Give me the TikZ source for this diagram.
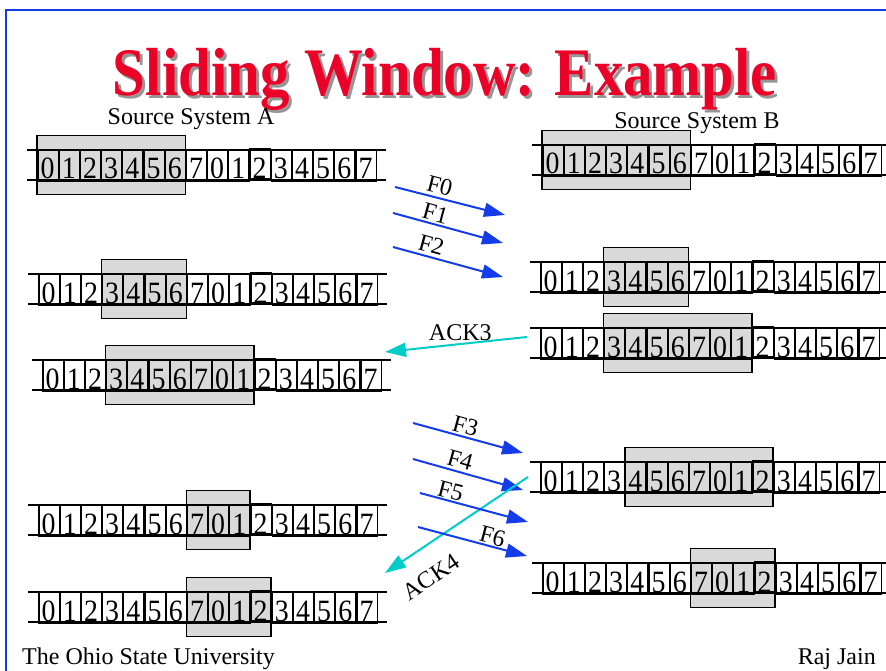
\documentclass[tikz,border=0pt]{standalone}
\usepackage{fontspec}
\setmainfont{Liberation Serif}
\newfontfamily\digitfont[FakeStretch=0.9]{Liberation Serif}
\newfontfamily\titlefont[FakeStretch=0.865]{Liberation Serif}
\usetikzlibrary{arrows.meta}

\definecolor{edgeblue}{RGB}{20,60,230}
\definecolor{titlered}{RGB}{235,0,40}
\definecolor{shadowgray}{RGB}{150,150,150}
\definecolor{winfill}{RGB}{217,217,217}
\definecolor{framecol}{RGB}{20,60,235}
\definecolor{ackcol}{RGB}{0,205,200}

\def\cw{21.2}

\tikzset{
  seqline/.style={line width=1.3pt},
  winbox/.style={draw, line width=1.5pt, fill=winfill},
  digit/.style={font=\digitfont\fontsize{31}{31}\selectfont, inner sep=0pt, anchor=base},
  lbl/.style={font=\fontsize{24}{24}\selectfont, inner sep=1pt},
  caption/.style={font=\fontsize{24}{24}\selectfont, inner sep=0pt},
  frame arrow/.style={draw=framecol, line width=2pt, -{Triangle[length=21pt,width=14pt]}},
  ack arrow/.style={draw=ackcol, line width=2pt, -{Triangle[length=21pt,width=14pt]}},
}

% one sequence-number strip: name, left x, centre y, first and last cell of the window
\newcommand\seqstrip[5]{%
  \begin{scope}[shift={(#2,#3)}]
    \draw[winbox] ({#4*\cw},-29.5) rectangle ({(#5+1)*\cw},29.5);
    \draw[seqline] (-10,-15) -- ({16*\cw+10},-15);
    \draw[seqline] (-10,15) -- ({16*\cw+10},15);
    \foreach \i in {0,...,15} {
      \pgfmathtruncatemacro\dg{mod(\i,8)}
      \ifnum\i=10
        \draw[seqline] ({\i*\cw+1},-16.5) rectangle ({(\i+1)*\cw},14);
      \else
        \draw[seqline] ({\i*\cw+1},-15) rectangle ({(\i+1)*\cw},16);
      \fi
      \node[digit] (#1-\i) at ({(\i+0.5)*\cw},14) {\dg};
    }
  \end{scope}}

\begin{document}
\begin{tikzpicture}[x=1pt,y=-1pt]
  \useasboundingbox (0,0) rectangle (886,671);

  % slide edge
  \draw[edgeblue, line width=2.5pt] (6,671) -- (6,10) -- (886,10);

  % title with drop shadow
  \node[anchor=base, inner sep=0pt, text=shadowgray,
        font=\titlefont\bfseries\fontsize{68}{68}\selectfont] (titleshadow) at (448,99) {Sliding Window: Example};
  \node[anchor=base, inner sep=0pt, text=titlered,
        font=\titlefont\bfseries\fontsize{68}{68}\selectfont] (title) at (445,96) {Sliding Window: Example};

  \node[caption, anchor=base] (srcA) at (191,125) {Source System A};
  \node[caption, anchor=base] (srcB) at (697,129) {Source System B};

  % sender side
  \seqstrip{a1}{37}{165}{0}{6}
  \seqstrip{a2}{38}{289}{3}{6}
  \seqstrip{a3}{42}{375}{3}{9}
  \seqstrip{a4}{38}{520}{7}{9}
  \seqstrip{a5}{38}{607}{7}{10}

  % receiver side
  \seqstrip{b1}{542}{160}{0}{6}
  \seqstrip{b2}{540}{277}{3}{6}
  \seqstrip{b3}{540}{343}{3}{9}
  \seqstrip{b4}{540}{477}{4}{10}
  \seqstrip{b5}{542}{578}{7}{10}

  % arrow end points
  \coordinate (f0s) at (395,187); \coordinate (f0e) at (505,215);
  \coordinate (f1s) at (393,213); \coordinate (f1e) at (503,243);
  \coordinate (f2s) at (393,247); \coordinate (f2e) at (503,277);
  \coordinate (k3s) at (527,337); \coordinate (k3e) at (385,352);
  \coordinate (f3s) at (413,423); \coordinate (f3e) at (523,453);
  \coordinate (f4s) at (413,459); \coordinate (f4e) at (523,490);
  \coordinate (f5s) at (420,493); \coordinate (f5e) at (528,522);
  \coordinate (f6s) at (418,527); \coordinate (f6e) at (527,556);
  \coordinate (k4s) at (528,477); \coordinate (k4e) at (385,573);

  % frames and acknowledgements
  \draw[frame arrow] (f0s) -- node[lbl, sloped, above=2pt, pos=0.38] (lf0) {F0} (f0e);
  \draw[frame arrow] (f1s) -- node[lbl, sloped, above=1pt, pos=0.36] (lf1) {F1} (f1e);
  \draw[frame arrow] (f2s) -- node[lbl, sloped, above=2pt, pos=0.32] (lf2) {F2} (f2e);
  \draw[ack arrow] (k3s) -- node[lbl, above=1pt, pos=0.47] (lk3) {ACK3} (k3e);

  \draw[frame arrow] (f3s) -- node[lbl, sloped, above=1pt, pos=0.45] (lf3) {F3} (f3e);
  \draw[frame arrow] (f4s) -- node[lbl, sloped, above=2pt, pos=0.40] (lf4) {F4} (f4e);
  \draw[ack arrow] (k4s) -- (k4e);
  \draw[frame arrow] (f5s) -- node[lbl, sloped, above=0pt, pos=0.26] (lf5) {F5} (f5e);
  \draw[frame arrow] (f6s) -- node[lbl, sloped, above=0pt, pos=0.66] (lf6) {F6} (f6e);
  \node[lbl, rotate=34] (lk4) at (431,577) {ACK4};

  % footer
  \node[caption, anchor=base west] (univ) at (22,664) {The Ohio State University};
  \node[caption, anchor=base east] (author) at (876,664) {Raj Jain};
\end{tikzpicture}
\end{document}
